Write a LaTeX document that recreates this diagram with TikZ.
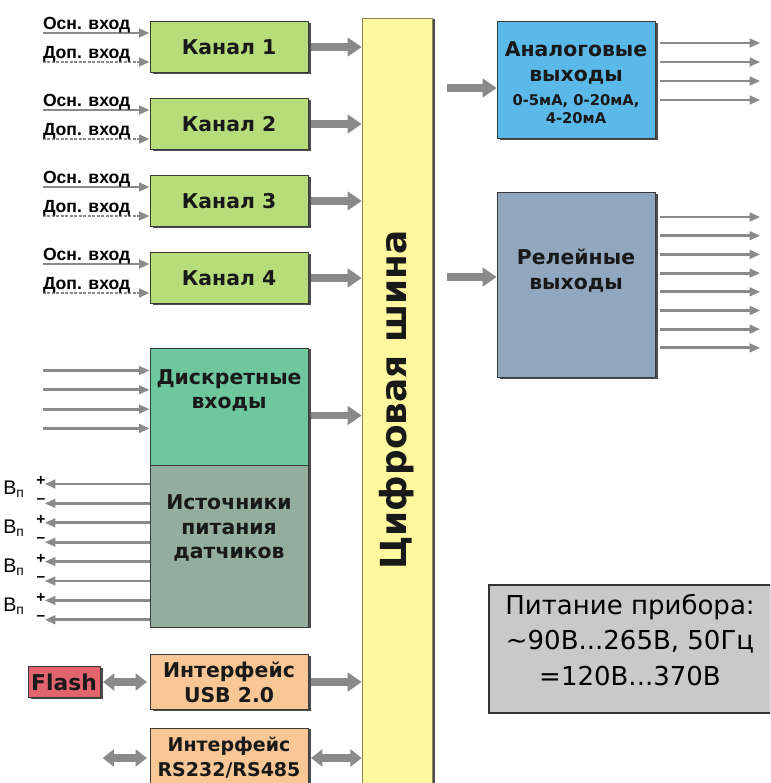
\documentclass[tikz,border=0pt]{standalone}
\usepackage{fontspec}
\setmainfont{Liberation Sans}
\newfontfamily\heavy{DejaVu Sans}
\usetikzlibrary{positioning,arrows.meta,calc,shadows}
\definecolor{cChan}{HTML}{B7DD7B}
\definecolor{cBus}{HTML}{FFF89E}
\definecolor{cAna}{HTML}{5BB9E9}
\definecolor{cRel}{HTML}{91A7BE}
\definecolor{cDisc}{HTML}{6FC79E}
\definecolor{cSrc}{HTML}{93AE9D}
\definecolor{cIfc}{HTML}{F9C796}
\definecolor{cFlash}{HTML}{E2646F}
\definecolor{cPwr}{HTML}{C9C9C9}
\definecolor{cArr}{HTML}{8A8A8A}
\definecolor{cEdge}{HTML}{3A3A3A}
\def\px{0.025cm}
\tikzset{
  bd/box/.style  ={draw=cEdge, thin, minimum width=158*\px, inner sep=0pt,
                   align=center, text=black!90,
                   font=\heavy\bfseries\fontsize{14.5}{17.7}\selectfont,
                   drop shadow={shadow xshift=2pt, shadow yshift=-1pt,
                                fill=black!70, opacity=1}},
  bd/txt/.style  ={align=center, inner sep=0pt, text=black!90,
                   font=\heavy\bfseries\fontsize{14.5}{17.7}\selectfont},
  bd/inlbl/.style={inner sep=0pt, font=\bfseries\fontsize{12.5}{13}\selectfont},
  bd/vp/.style   ={inner sep=0pt, font=\fontsize{14}{15}\selectfont},
  bd/sign/.style ={inner sep=0pt, font=\bfseries\fontsize{11}{12}\selectfont},
  bd/fat/.style  ={line width=5.5pt, cArr, -{Triangle[length=10pt, width=13pt]},
                   shorten <=2pt},
  bd/fat2/.style ={line width=5.5pt, cArr,
                   {Triangle[length=8pt, width=12pt]}-{Triangle[length=8pt, width=12pt]}},
  bd/thin/.style ={line width=2pt, cArr, -{Triangle[length=7.5pt, width=6pt]}},
  bd/dots/.style ={dash pattern=on 2pt off 1.2pt}
}
\begin{document}
\begin{tikzpicture}[x=\px, y=-\px]
  \clip (0,0) rectangle (770,783);
  % digital bus
  \node[bd/box, fill=cBus, draw=cBus!55!black, minimum width=70*\px,
        minimum height=775*\px] (bus) at (397,405.5) {};
  \node[bd/txt, rotate=90, font=\heavy\bfseries\fontsize{25.5}{28}\selectfont]
        (bustxt) at (397,400) {Цифровая шина};
  % --- measuring channels ---
  \foreach \i/\y in {1/47, 2/124, 3/201, 4/278} {
    \node[bd/box, fill=cChan, minimum height=51*\px] (k\i) at (229,\y) {Канал \i};
    \coordinate (o\i) at ($(k\i.west)+(-107,-14)$);
    \coordinate (d\i) at ($(k\i.west)+(-107,15)$);
    \draw[bd/thin] (o\i) -- (k\i.west |- o\i);
    \draw[bd/thin, bd/dots] (d\i) -- (k\i.west |- d\i);
    \node[bd/inlbl, anchor=base west] (ol\i) at ($(o\i)+(0,-4)$) {Осн. вход};
    \node[bd/inlbl, anchor=base west] (dl\i) at ($(d\i)+(0,-4)$) {Доп. вход};
    \draw[bd/fat] (k\i.east) -- (k\i.east -| bus.west);
  }
  % --- analog outputs ---
  \node[bd/box, fill=cAna, minimum height=117*\px] (ana) at (576,80) {};
  \node[bd/txt] (anatxt) at ($(ana.center)+(0,-17)$) {Аналоговые\\выходы};
  \node[bd/txt, font=\heavy\bfseries\fontsize{10.5}{12.8}\selectfont]
        (anarng) at ($(ana.center)+(0,29)$) {0-5мА, 0-20мА,\\4-20мА};
  \coordinate (anain) at ($(ana.west)+(0,8)$);
  \draw[bd/fat, shorten <=10.5pt] (bus.east |- anain) -- (anain);
  \foreach \k in {0,...,3}
    \draw[bd/thin] ($(ana.east)+(5,-37+19*\k)$) -- ++(100,0);
  % --- relay outputs ---
  \node[bd/box, fill=cRel, minimum height=185*\px] (rel) at (576,285) {};
  \node[bd/txt] (reltxt) at ($(rel.center)+(0,-14)$) {Релейные\\выходы};
  \coordinate (relin) at ($(rel.west)+(0,-8)$);
  \draw[bd/fat, shorten <=10.5pt] (bus.east |- relin) -- (relin);
  \foreach \k in {0,...,7}
    \draw[bd/thin] ($(rel.east)+(5,-68+18.7*\k)$) -- ++(100,0);
  % --- discrete inputs ---
  \node[bd/box, fill=cDisc, minimum height=117*\px] (disc) at (229,406.5) {};
  \node[bd/txt] (disctxt) at ($(disc.center)+(0,-16)$) {Дискретные\\входы};
  \foreach \k in {0,...,3}
    \draw[bd/thin] ($(disc.west)+(-107,-36+19.3*\k)$) -- ++(107,0);
  \coordinate (discout) at ($(disc.east)+(0,9)$);
  \draw[bd/fat] (discout) -- (discout -| bus.west);
  % --- sensor supplies ---
  \node[bd/box, fill=cSrc, minimum height=162*\px] (src) at (229,546) {};
  \node[bd/txt] (srctxt) at ($(src.center)+(0,-18)$) {Источники\\питания\\датчиков};
  \foreach \k in {0,...,7}
    \draw[bd/thin] ($(src.west)+(0,-62+19.4*\k)$) -- ++(-105,0);
  \foreach \k/\y in {1/489, 2/528, 3/567, 4/606} {
    \node[bd/vp] (vp\k) at (14,\y) {В\textsubscript{п}};
    \node[bd/sign] (pl\k) at (41,\y-8) {+};
    \node[bd/sign] (mi\k) at (41,\y+12) {–};
  }
  % --- interfaces ---
  \node[bd/box, fill=cFlash, minimum width=72*\px, minimum height=31*\px,
        font=\heavy\bfseries\fontsize{15.5}{18}\selectfont] (flash) at (64,682) {Flash};
  \node[bd/box, fill=cIfc, minimum height=55*\px] (usb) at (229,682) {Интерфейс\\USB 2.0};
  \draw[bd/fat2, shorten <=2pt, shorten >=2pt] (flash.east) -- (usb.west);
  \draw[bd/fat] (usb.east) -- (usb.east -| bus.west);
  \node[bd/box, fill=cIfc, minimum height=60*\px,
        font=\heavy\bfseries\fontsize{13.5}{17.7}\selectfont] (rs) at (229,758)
        {Интерфейс\\RS232/RS485};
  \coordinate (rsext) at ($(rs.west)+(-47,0)$);
  \draw[bd/fat2, shorten >=2pt] (rsext) -- (rs.west);
  \draw[bd/fat2, shorten <=2pt] (rs.east) -- (rs.east -| bus.west);
  % --- mains supply ---
  \node[draw=black!80, thick, fill=cPwr, minimum width=282*\px,
        minimum height=128*\px] (pwr) at (630,649) {};
  \node[align=center, inner sep=0pt, font=\heavy\fontsize{18.5}{25}\selectfont]
        (pwrtxt) at ($(pwr.center)+(0,-9)$)
        {Питание прибора:\\\textasciitilde90В...265В, 50Гц\\=120В...370В};
\end{tikzpicture}
\end{document}
